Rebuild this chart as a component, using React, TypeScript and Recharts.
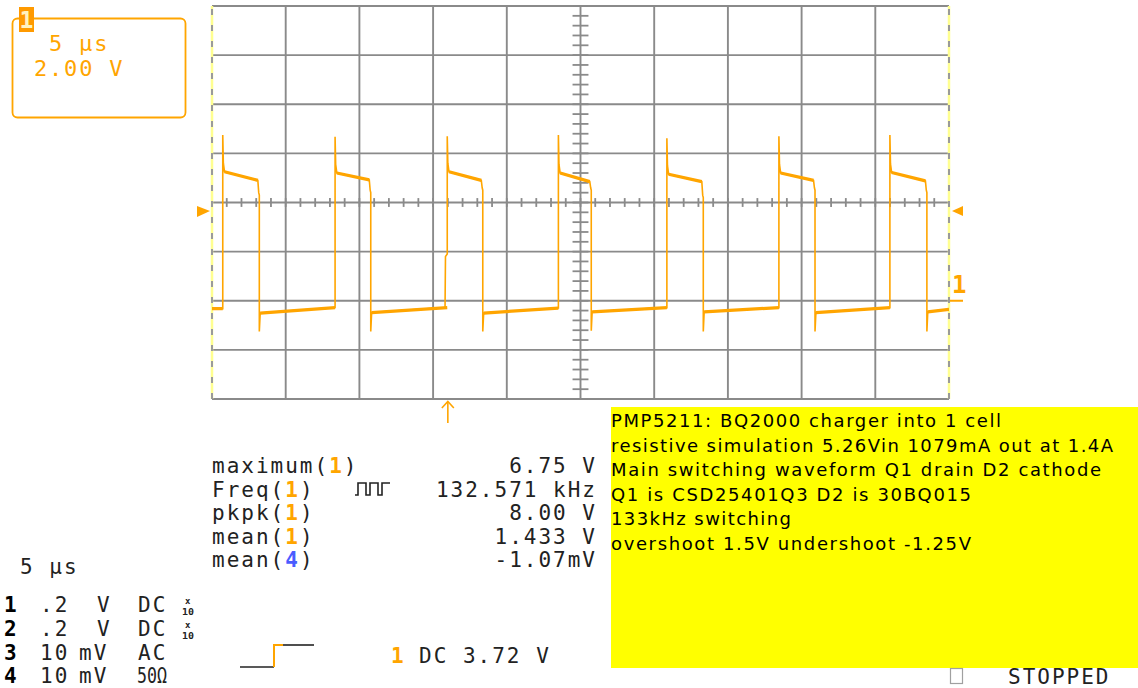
import { LineChart, Line, XAxis, YAxis, CartesianGrid, ReferenceLine, ReferenceDot } from 'recharts';

// channel 1 switching waveform, 5 us/div, 2 V/div (volts, microseconds)
const riseUs = [0.73, 8.35, 15.96, 23.5, 30.86, 38.46, 45.99];
const fallUs = [3.21, 10.77, 18.37, 25.73, 33.33, 40.91, 48.5];
const peakV = [6.75, 6.68, 6.7, 6.75, 6.62, 6.7, 6.75];
const topStartV = [5.25, 5.2, 5.25, 5.2, 5.15, 5.2, 5.22];
const topEndV = [4.9, 4.92, 4.9, 4.85, 4.85, 4.9, 4.88];
const fallStepV = [4.4, 4.5, 4.6, 4.6, 4.3, 4.6, 4.5];
const riseStepV: (number | null)[] = [null, null, 1.8, null, null, null, null];
const undershootV = [-1.25, -1.25, -1.25, -1.22, -1.25, -1.25, -1.25];
const lowStartV = [-0.5, -0.48, -0.5, -0.45, -0.45, -0.48, -0.45];
const lowEndV = [-0.28, -0.28, -0.3, -0.28, -0.28, -0.28, -0.35];
const startLowV = -0.32;
const endUs = 50;

const timeGridUs = [0, 5, 10, 15, 20, 25, 30, 35, 40, 45, 50];
const voltGridV = [-4, -2, 0, 2, 4, 6, 8, 10, 12];
const centerUs = 25;
const centerV = 4;
const minorUs = Array.from({ length: 49 }, (_, i) => i + 1);
const minorV = Array.from({ length: 41 }, (_, i) => -4 + i * 0.4);

const triggerLevelV = 3.72;
const triggerPosUs = 16.0;

const measureLabels = ['maximum', 'Freq', 'pkpk', 'mean', 'mean'];
const measureChannels = ['1', '1', '1', '1', '4'];
const measureValues = ['6.75 V', '132.571 kHz', '8.00 V', '1.433 V', '-1.07mV'];

const channelNums = ['1', '2', '3', '4'];
const channelScales = ['.2', '.2', '10', '10'];
const channelUnits = ['V', 'V', 'mV', 'mV'];
const channelCoupling = ['DC', 'DC', 'AC', '50Ω'];
const channelProbe = [true, true, false, false];

const noteLines = [
  'PMP5211: BQ2000 charger into 1 cell',
  'resistive simulation 5.26Vin 1079mA out at 1.4A',
  'Main switching waveform Q1 drain D2 cathode',
  'Q1 is CSD25401Q3 D2 is 30BQ015',
  '133kHz switching',
  'overshoot 1.5V undershoot -1.25V',
];
const noteWidths = [390, 502, 490, 360, 180, 360];

type Pt = { t: number; v: number | null };

const trace: Pt[] = [{ t: 0, v: startLowV }];
const plateau: Pt[] = [{ t: 0, v: startLowV }];
riseUs.forEach((r, i) => {
  const f = fallUs[i];
  const prevLow = i === 0 ? startLowV : lowEndV[i - 1];
  const step = riseStepV[i];
  if (step !== null) {
    trace.push({ t: r - 0.15, v: prevLow }, { t: r - 0.12, v: step }, { t: r, v: step + 0.1 });
  } else {
    trace.push({ t: r, v: prevLow });
  }
  trace.push(
    { t: r, v: peakV[i] },
    { t: r + 0.04, v: topStartV[i] + 0.35 },
    { t: r + 0.12, v: topStartV[i] },
    { t: f - 0.1, v: topEndV[i] },
    { t: f - 0.04, v: fallStepV[i] },
    { t: f, v: fallStepV[i] - 0.1 },
    { t: f, v: undershootV[i] },
    { t: f + 0.06, v: lowStartV[i] },
  );
  plateau.push(
    { t: r, v: prevLow },
    { t: r, v: null },
    { t: r + 0.12, v: topStartV[i] },
    { t: f - 0.1, v: topEndV[i] },
    { t: f, v: null },
    { t: f + 0.06, v: lowStartV[i] },
  );
});
trace.push({ t: endUs, v: lowEndV[lowEndV.length - 1] });
plateau.push({ t: endUs, v: lowEndV[lowEndV.length - 1] });

const ORANGE = '#ffa500';
const GRID = '#8a8a8a';
const MONO = '"DejaVu Sans Mono", monospace';
const INK = '#222';

export default function App() {
  const rowBase = [473, 496.5, 520, 543.5, 566.5];
  const chBase = [612, 636, 660, 683];

  return (
    <div style={{ position: 'absolute', left: 0, top: 0, width: 1138, height: 688, background: '#fff', overflow: 'hidden' }}>
      <LineChart
        width={1138}
        height={688}
        margin={{ top: 6, left: 212, right: 189, bottom: 289 }}
        style={{ position: 'absolute', left: 0, top: 0 }}
      >
        <XAxis type="number" dataKey="t" domain={[0, 50]} hide allowDataOverflow />
        <YAxis type="number" dataKey="v" domain={[-4, 12]} hide allowDataOverflow />
        <CartesianGrid horizontalValues={voltGridV} verticalValues={timeGridUs} stroke={GRID} strokeWidth={1.9} />
        {minorUs.map((t) => (
          <ReferenceLine
            key={'mu' + t}
            segment={[{ x: t, y: centerV - 0.18 }, { x: t, y: centerV + 0.18 }]}
            stroke={GRID}
            strokeWidth={1.8}
          />
        ))}
        {minorV.map((v) => (
          <ReferenceLine
            key={'mv' + v}
            segment={[{ x: centerUs - 0.54, y: v }, { x: centerUs + 0.54, y: v }]}
            stroke={GRID}
            strokeWidth={1.8}
          />
        ))}
        <ReferenceLine x={0} stroke="#ffff90" strokeWidth={2.5} />
        <ReferenceLine x={50} stroke="#ffff90" strokeWidth={2.5} />
        <ReferenceLine x={0} stroke="#9a9a9a" strokeWidth={2} strokeDasharray="6 10" />
        <ReferenceLine x={50} stroke="#9a9a9a" strokeWidth={2} strokeDasharray="6 10" />
        <Line
          data={plateau}
          dataKey="v"
          type="linear"
          stroke={ORANGE}
          strokeWidth={3.2}
          dot={false}
          activeDot={false}
          connectNulls={false}
          isAnimationActive={false}
        />
        <Line
          data={trace}
          dataKey="v"
          type="linear"
          stroke={ORANGE}
          strokeWidth={1.6}
          dot={false}
          activeDot={false}
          isAnimationActive={false}
        />
        <ReferenceDot
          x={0}
          y={triggerLevelV}
          shape={(p: any) => (
            <polygon
              points={`${p.cx - 15},${p.cy - 3.5} ${p.cx - 15},${p.cy + 7.5} ${p.cx - 2},${p.cy + 1.5}`}
              fill={ORANGE}
            />
          )}
        />
        <ReferenceDot
          x={50}
          y={triggerLevelV}
          shape={(p: any) => (
            <polygon
              points={`${p.cx + 14},${p.cy - 3.5} ${p.cx + 14},${p.cy + 6.5} ${p.cx + 3},${p.cy + 1.5}`}
              fill={ORANGE}
            />
          )}
        />
        <ReferenceDot
          x={50}
          y={0}
          shape={(p: any) => (
            <g>
              <text x={p.cx + 3} y={p.cy - 8} fill={ORANGE} fontFamily={MONO} fontWeight="bold" fontSize={24}>
                1
              </text>
              <rect x={p.cx + 1} y={p.cy - 1} width={13} height={2} fill={ORANGE} />
            </g>
          )}
        />
        <ReferenceDot
          x={triggerPosUs}
          y={-4}
          shape={(p: any) => (
            <g stroke={ORANGE} strokeWidth={1.6} fill="none">
              <line x1={p.cx} y1={p.cy + 3} x2={p.cx} y2={p.cy + 24} />
              <polyline points={`${p.cx - 6},${p.cy + 9} ${p.cx},${p.cy + 2.5} ${p.cx + 6},${p.cy + 9}`} />
            </g>
          )}
        />
      </LineChart>

      <svg width={1138} height={688} style={{ position: 'absolute', left: 0, top: 0, pointerEvents: 'none' }}>
        {/* channel box */}
        <rect x={12.5} y={18.5} width={173} height={99} rx={5} fill="none" stroke={ORANGE} strokeWidth={1.8} />
        <rect x={19} y={7} width={15} height={25} fill="#ff9a00" />
        <text x={26.5} y={28} textAnchor="middle" fill="#fff2c0" fontFamily={MONO} fontWeight="bold" fontSize={23}>
          1
        </text>
        <text x={49} y={50.5} fill={ORANGE} fontFamily={MONO} fontSize={22} letterSpacing={1.8}>
          5 µs
        </text>
        <text x={34} y={76} fill={ORANGE} fontFamily={MONO} fontSize={22} letterSpacing={1.8}>
          2.00 V
        </text>

        {/* measurements */}
        {measureLabels.map((lab, i) => (
          <g key={'m' + i} fontFamily={MONO} fontSize={21} letterSpacing={2}>
            <text x={212} y={rowBase[i]} fill={INK}>
              {lab}(
              <tspan fill={measureChannels[i] === '4' ? '#4a5cff' : ORANGE} fontWeight="bold">
                {measureChannels[i]}
              </tspan>
              )
            </text>
            <text x={597} y={rowBase[i]} fill={INK} textAnchor="end">
              {measureValues[i]}
            </text>
          </g>
        ))}
        <path d="M355,495 H358 V483 H366 V495 H370 V483 H378 V495 H382 V483 H390" fill="none" stroke={INK} strokeWidth={1.6} />

        {/* timebase + channels */}
        <text x={20} y={574} fill={INK} fontFamily={MONO} fontSize={21} letterSpacing={2}>
          5 µs
        </text>
        {channelNums.map((n, i) => (
          <g key={'c' + i} fontFamily={MONO} fontSize={21} fill={INK}>
            <text x={4} y={chBase[i]} fontWeight="bold" fill="#000">
              {n}
            </text>
            <text x={40} y={chBase[i]} letterSpacing={2}>
              {channelScales[i]}
            </text>
            <text x={channelUnits[i] === 'V' ? 97 : 79} y={chBase[i]} letterSpacing={2}>
              {channelUnits[i]}
            </text>
            {channelCoupling[i] === '50Ω' ? (
              <text x={137} y={chBase[i]} textLength={30} lengthAdjust="spacingAndGlyphs">
                {channelCoupling[i]}
              </text>
            ) : (
              <text x={138} y={chBase[i]} letterSpacing={2}>
                {channelCoupling[i]}
              </text>
            )}
            {channelProbe[i] && (
              <g fontSize={9} fontWeight="bold">
                <text x={185} y={chBase[i] - 8}>x</text>
                <text x={182} y={chBase[i] + 3} textLength={12} lengthAdjust="spacingAndGlyphs">
                  10
                </text>
              </g>
            )}
          </g>
        ))}

        {/* trigger */}
        <path d="M240,667 H274" stroke={INK} strokeWidth={1.6} fill="none" />
        <path d="M274,667 V645 H283" stroke={ORANGE} strokeWidth={2} fill="none" />
        <path d="M283,645 H314" stroke={INK} strokeWidth={1.6} fill="none" />
        <text x={391} y={663} fill={ORANGE} fontFamily={MONO} fontSize={21} fontWeight="bold">
          1
        </text>
        <text x={419} y={663} fill={INK} fontFamily={MONO} fontSize={21} letterSpacing={2}>
          DC 3.72 V
        </text>

        {/* note */}
        <rect x={611} y={407} width={527} height={261} fill="#ffff00" />
        {noteLines.map((line, i) => (
          <text
            key={'n' + i}
            x={611}
            y={427 + i * 24.5}
            fill="#000"
            fontFamily='"DejaVu Sans", sans-serif'
            fontSize={18}
            textLength={noteWidths[i]}
            lengthAdjust="spacing"
          >
            {line}
          </text>
        ))}

        {/* status */}
        <rect x={950.5} y={668.5} width={12} height={15} fill="none" stroke="#a0a0a0" strokeWidth={1.2} />
        <text x={1008} y={684} fill={INK} fontFamily={MONO} fontSize={21} letterSpacing={2}>
          STOPPED
        </text>
      </svg>
    </div>
  );
}
